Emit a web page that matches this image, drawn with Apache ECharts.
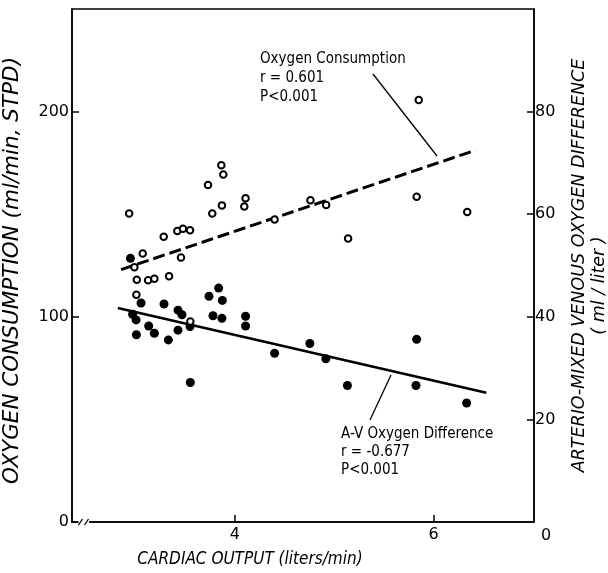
<!DOCTYPE html>
<html>
<head>
<meta charset="utf-8">
<script src="https://cdn.jsdelivr.net/npm/echarts@6/dist/echarts.min.js"></script>
<style>
html,body{margin:0;padding:0;background:#fff;}
#chart{width:608px;height:573px;}
</style>
</head>
<body>
<div id="chart"></div>
<script>
// ---- data ----
const xTicks = [4, 6];
const leftTicks = [0, 100, 200];
const rightTicks = [0, 20, 40, 60, 80];

// Oxygen consumption (open circles, left axis, ml/min STPD)
const o2X = [2.935, 2.988, 3.012, 3.008, 3.072, 3.126, 3.189, 3.283, 3.337, 3.42, 3.477, 3.548, 3.457, 3.551, 3.729, 3.772, 3.863, 3.883, 3.869, 4.107, 4.094, 4.399, 4.76, 4.918, 5.139, 5.829, 5.85, 6.338];
const o2Y = [150.3, 124.2, 118, 110.8, 130.8, 117.8, 118.5, 139, 119.8, 141.8, 142.9, 142.2, 128.9, 97.7, 164.2, 150.3, 173.8, 169.4, 154.3, 157.8, 153.8, 147.4, 156.8, 154.5, 138.2, 158.5, 205.7, 151.1];

// A-V oxygen difference (filled circles, right axis, ml/liter)
const avX = [2.948, 3.055, 2.97, 3.005, 3.008, 3.132, 3.189, 3.286, 3.33, 3.427, 3.427, 3.467, 3.548, 3.551, 3.739, 3.836, 3.873, 3.779, 3.869, 4.107, 4.107, 4.399, 4.754, 4.915, 5.132, 5.829, 5.822, 6.332];
const avY = [51.4, 42.7, 40.5, 39.4, 36.5, 38.2, 36.8, 42.5, 35.5, 37.4, 41.3, 40.4, 38.1, 27.2, 44, 45.6, 43.2, 40.2, 39.7, 40.1, 38.2, 32.9, 34.8, 31.8, 26.6, 35.6, 26.6, 23.2];

// regression line end points
const o2FitX = [2.854, 6.422];
const o2FitY = [123, 181.2];
const avFitX = [2.821, 6.53];
const avFitY = [41.7, 25.2];

const o2Label = ['Oxygen Consumption', 'r = 0.601', 'P<0.001'];
const avLabel = ['A-V Oxygen Difference', 'r = -0.677', 'P<0.001'];

const zip = (a, b) => a.map((v, i) => [v, b[i]]);

const INK = '#000';
const FONT = "'DejaVu Sans Condensed', 'DejaVu Sans', sans-serif";
const TITLEFONT = "'DejaVu Sans', sans-serif";
const TICKFONT = "'DejaVu Sans', sans-serif";

const chart = echarts.init(document.getElementById('chart'), null, {renderer: 'canvas'});

const option = {
  animation: false,
  backgroundColor: '#fff',
  grid: {
    left: 72, right: 74, top: 9, bottom: 51,
    show: true, borderColor: INK, borderWidth: 1.5,
    containLabel: false, outerBoundsMode: 'none'
  },
  xAxis: {
    type: 'value', min: 2.36, max: 7.01,
    axisLine: {show: true, onZero: false, lineStyle: {color: INK, width: 1.5}},
    axisTick: {show: true, inside: true, length: 7, customValues: xTicks, lineStyle: {color: INK, width: 1.5}},
    axisLabel: {customValues: xTicks, margin: 5, fontSize: 16, color: INK, fontFamily: TICKFONT},
    splitLine: {show: false},
    name: 'CARDIAC OUTPUT (liters/min)',
    nameLocation: 'middle', nameGap: 29,
    nameTextStyle: {fontStyle: 'italic', fontSize: 17, color: INK, fontFamily: FONT, padding: [0, 106, 0, 0]}
  },
  yAxis: [
    {
      type: 'value', min: 0, max: 250, position: 'left',
      axisLine: {show: true, lineStyle: {color: INK, width: 1.5}},
      axisTick: {show: true, inside: true, length: 7, customValues: [100, 200], lineStyle: {color: INK, width: 1.5}},
      axisLabel: {customValues: leftTicks, margin: 3, fontSize: 16, color: INK, fontFamily: TICKFONT},
      splitLine: {show: false},
      name: 'OXYGEN CONSUMPTION (ml/min, STPD)',
      nameLocation: 'middle', nameRotate: 90, nameGap: 49,
      nameTextStyle: {fontStyle: 'italic', fontSize: 21.5, color: INK, fontFamily: TITLEFONT, padding: [0, 10, 0, 0]}
    },
    {
      type: 'value', min: 0, max: 100, position: 'right',
      axisLine: {show: true, lineStyle: {color: INK, width: 1.5}},
      axisTick: {show: true, inside: true, length: 7, customValues: [20, 40, 60, 80], lineStyle: {color: INK, width: 1.5}},
      axisLabel: {
        customValues: rightTicks, margin: 1, fontSize: 16, color: INK, fontFamily: TICKFONT,
        formatter: v => v === 0 ? '{z|0}' : String(v),
        rich: {z: {fontSize: 16, fontFamily: TICKFONT, color: INK, padding: [28, 0, 0, 6]}}
      },
      splitLine: {show: false},
      name: 'ARTERIO-MIXED VENOUS OXYGEN DIFFERENCE\n{u|( ml / liter )}',
      nameLocation: 'middle', nameRotate: 90, nameGap: 35,
      nameTextStyle: {
        fontStyle: 'italic', fontSize: 17.5, lineHeight: 20, color: INK, fontFamily: TITLEFONT,
        rich: {u: {fontStyle: 'italic', fontSize: 17.5, lineHeight: 20, color: INK, fontFamily: TITLEFONT, padding: [0, 40, 0, 0]}}
      }
    }
  ],
  series: [
    {
      type: 'line', yAxisIndex: 0, data: zip(o2FitX, o2FitY), symbol: 'none', z: 2,
      lineStyle: {color: INK, width: 3, type: [12, 5]}
    },
    {
      type: 'line', yAxisIndex: 1, data: zip(avFitX, avFitY), symbol: 'none', z: 2,
      lineStyle: {color: INK, width: 2.6}
    },
    {
      type: 'scatter', yAxisIndex: 1, data: zip(avX, avY), symbol: 'circle', symbolSize: 9, z: 3,
      itemStyle: {color: INK, opacity: 1}
    },
    {
      type: 'scatter', yAxisIndex: 0, data: zip(o2X, o2Y), symbol: 'circle', symbolSize: 6.5, z: 4,
      itemStyle: {color: '#fff', borderColor: INK, borderWidth: 2, opacity: 1}
    }
  ],
  graphic: [
    // axis break on the x axis
    {type: 'rect', shape: {x: 78.5, y: 518, width: 10.5, height: 8}, style: {fill: '#fff'}, z: 100},
    {type: 'line', shape: {x1: 78.5, y1: 525, x2: 82.5, y2: 519}, style: {stroke: INK, lineWidth: 1.3}, z: 101},
    {type: 'line', shape: {x1: 84.5, y1: 525, x2: 88.5, y2: 519}, style: {stroke: INK, lineWidth: 1.3}, z: 101},
    // annotation: oxygen consumption
    {type: 'text', left: 260, top: 50, z: 100,
      style: {text: o2Label.join('\n'), font: '15px ' + FONT, lineHeight: 19, fill: INK}},
    {type: 'line', shape: {x1: 373, y1: 74, x2: 437, y2: 156}, style: {stroke: INK, lineWidth: 1.3}, z: 100},
    // annotation: A-V oxygen difference
    {type: 'text', left: 341, top: 425, z: 100,
      style: {text: avLabel.join('\n'), font: '15px ' + FONT, lineHeight: 18, fill: INK}},
    {type: 'line', shape: {x1: 391, y1: 375, x2: 370, y2: 420}, style: {stroke: INK, lineWidth: 1.3}, z: 100}
  ]
};
chart.setOption(option);
</script>
</body>
</html>
